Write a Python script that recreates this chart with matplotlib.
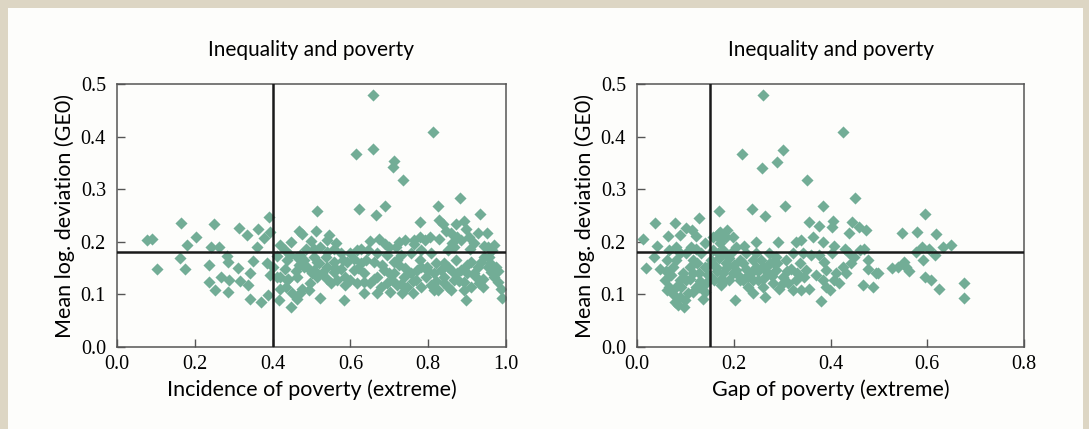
import matplotlib.pyplot as plt
from matplotlib.patches import Rectangle

# Left panel: incidence of extreme poverty vs mean log deviation
inc_x = [0.658, 0.813, 0.659, 0.615, 0.712, 0.710, 0.736, 0.882, 0.825, 0.688,
         0.622, 0.515, 0.933, 0.666, 0.392, 0.165, 0.250, 0.779, 0.829, 0.892,
         0.837, 0.871, 0.313, 0.363, 0.469, 0.512, 0.845, 0.898, 0.950, 0.928,
         0.394, 0.475, 0.545, 0.333, 0.203, 0.377, 0.076, 0.091, 0.539, 0.779,
         0.804, 0.858, 0.740, 0.650, 0.904, 0.447, 0.499, 0.563, 0.690, 0.764,
         0.860, 0.181, 0.242, 0.263, 0.359, 0.420, 0.944, 0.968, 0.908, 0.850,
         0.645, 0.716, 0.486, 0.161, 0.282, 0.285, 0.411, 0.437, 0.385, 0.349,
         0.310, 0.174, 0.103, 0.237, 0.393, 0.341, 0.316, 0.267, 0.287, 0.236,
         0.252, 0.286, 0.336, 0.343, 0.370, 0.387, 0.417, 0.448, 0.463, 0.420,
         0.435, 0.449, 0.475, 0.493, 0.523, 0.583, 0.550, 0.514, 0.431, 0.467,
         0.488, 0.513, 0.536, 0.557, 0.575, 0.587, 0.585, 0.609, 0.609, 0.626,
         0.634, 0.651, 0.669, 0.686, 0.678, 0.703, 0.708, 0.725, 0.738, 0.746,
         0.760, 0.768, 0.781, 0.794, 0.807, 0.819, 0.824, 0.841, 0.858, 0.850,
         0.871, 0.884, 0.893, 0.897, 0.891, 0.910, 0.918, 0.931, 0.940, 0.953,
         0.957, 0.970, 0.979, 0.987, 0.991, 0.944, 0.866, 0.807, 0.781, 0.755,
         0.729, 0.712, 0.695, 0.660, 0.669, 0.600, 0.617, 0.575, 0.540, 0.506,
         0.471, 0.445, 0.432, 0.480, 0.506, 0.527, 0.557, 0.540, 0.591, 0.600,
         0.617, 0.634, 0.695, 0.721, 0.755, 0.772, 0.798, 0.815, 0.833, 0.841,
         0.866, 0.875, 0.901, 0.910, 0.927, 0.935, 0.961, 0.974, 0.965, 0.953,
         0.918, 0.884, 0.875, 0.828, 0.793, 0.764, 0.725, 0.699, 0.673, 0.626,
         0.557, 0.523, 0.506, 0.463, 0.402, 0.411, 0.437, 0.463, 0.471, 0.497,
         0.565, 0.634, 0.669, 0.712, 0.733, 0.781, 0.815,
         0.620, 0.640, 0.660, 0.680, 0.700, 0.720, 0.740, 0.760, 0.780, 0.800,
         0.820, 0.840, 0.860, 0.880, 0.900, 0.920, 0.940, 0.960, 0.980, 0.500,
         0.520, 0.540, 0.560, 0.580, 0.460, 0.480, 0.440, 0.420, 0.850, 0.730]
inc_y = [0.479, 0.409, 0.376, 0.366, 0.353, 0.343, 0.317, 0.284, 0.268, 0.268,
         0.263, 0.258, 0.253, 0.251, 0.247, 0.235, 0.234, 0.237, 0.241, 0.240,
         0.233, 0.233, 0.227, 0.224, 0.221, 0.221, 0.221, 0.224, 0.217, 0.217,
         0.218, 0.214, 0.212, 0.213, 0.209, 0.207, 0.204, 0.206, 0.204, 0.209,
         0.209, 0.216, 0.204, 0.201, 0.209, 0.200, 0.201, 0.197, 0.195, 0.195,
         0.198, 0.194, 0.190, 0.190, 0.190, 0.194, 0.192, 0.194, 0.187, 0.184,
         0.184, 0.190, 0.187, 0.170, 0.173, 0.162, 0.173, 0.165, 0.160, 0.164,
         0.151, 0.148, 0.149, 0.155, 0.136, 0.140, 0.126, 0.133, 0.127, 0.124,
         0.109, 0.105, 0.117, 0.092, 0.086, 0.098, 0.089, 0.076, 0.092, 0.133,
         0.114, 0.102, 0.111, 0.108, 0.094, 0.089, 0.121, 0.133, 0.149, 0.155,
         0.152, 0.162, 0.171, 0.162, 0.149, 0.133, 0.117, 0.146, 0.168, 0.159,
         0.140, 0.121, 0.133, 0.146, 0.114, 0.105, 0.127, 0.155, 0.133, 0.114,
         0.102, 0.127, 0.152, 0.133, 0.117, 0.159, 0.108, 0.133, 0.108, 0.152,
         0.165, 0.146, 0.124, 0.089, 0.108, 0.162, 0.140, 0.121, 0.114, 0.152,
         0.171, 0.133, 0.124, 0.111, 0.094, 0.171, 0.190, 0.178, 0.184, 0.178,
         0.175, 0.162, 0.175, 0.162, 0.178, 0.178, 0.184, 0.178, 0.181, 0.171,
         0.175, 0.175, 0.184, 0.152, 0.146, 0.140, 0.143, 0.152, 0.162, 0.127,
         0.121, 0.124, 0.121, 0.117, 0.140, 0.146, 0.152, 0.140, 0.146, 0.121,
         0.127, 0.140, 0.140, 0.114, 0.152, 0.162, 0.143, 0.152, 0.184, 0.190,
         0.197, 0.203, 0.209, 0.206, 0.203, 0.203, 0.200, 0.190, 0.206, 0.187,
         0.187, 0.190, 0.187, 0.171, 0.152, 0.133, 0.127, 0.133, 0.102, 0.121,
         0.127, 0.102, 0.102, 0.140, 0.102, 0.114, 0.108,
         0.150, 0.165, 0.130, 0.155, 0.140, 0.165, 0.150, 0.125, 0.165, 0.145,
         0.125, 0.160, 0.145, 0.125, 0.155, 0.135, 0.130, 0.160, 0.145, 0.140,
         0.160, 0.130, 0.150, 0.165, 0.145, 0.165, 0.130, 0.110, 0.115, 0.120]

# Right panel: gap of extreme poverty vs mean log deviation
gap_x = [0.261, 0.425, 0.301, 0.217, 0.290, 0.258, 0.351, 0.450, 0.305, 0.384,
         0.238, 0.169, 0.596, 0.264, 0.129, 0.037, 0.078, 0.356, 0.406, 0.444,
         0.376, 0.102, 0.114, 0.186, 0.404, 0.439, 0.459, 0.474, 0.548, 0.579,
         0.619, 0.012, 0.065, 0.089, 0.122, 0.169, 0.198, 0.363, 0.041, 0.080,
         0.112, 0.140, 0.174, 0.222, 0.246, 0.291, 0.329, 0.339, 0.384, 0.408,
         0.429, 0.470, 0.590, 0.604, 0.632, 0.649, 0.036, 0.018, 0.047, 0.061,
         0.067, 0.074, 0.057, 0.061, 0.071, 0.081, 0.078, 0.088, 0.098, 0.105,
         0.102, 0.095, 0.109, 0.116, 0.122, 0.129, 0.136, 0.140, 0.143, 0.133,
         0.146, 0.153, 0.160, 0.164, 0.167, 0.171, 0.174, 0.177, 0.184, 0.191,
         0.195, 0.202, 0.205, 0.212, 0.219, 0.226, 0.229, 0.239, 0.236, 0.246,
         0.250, 0.257, 0.260, 0.264, 0.270, 0.274, 0.281, 0.288, 0.293, 0.301,
         0.308, 0.312, 0.318, 0.322, 0.329, 0.336, 0.339, 0.346, 0.356, 0.360,
         0.370, 0.380, 0.384, 0.387, 0.391, 0.398, 0.404, 0.408, 0.418, 0.425,
         0.432, 0.439, 0.442, 0.449, 0.460, 0.468, 0.477, 0.477, 0.487, 0.494,
         0.499, 0.528, 0.539, 0.552, 0.556, 0.563, 0.576, 0.591, 0.596, 0.607,
         0.617, 0.625, 0.675, 0.675, 0.157, 0.171, 0.184, 0.157, 0.177, 0.205,
         0.226, 0.246, 0.272, 0.288, 0.260, 0.281, 0.226, 0.239, 0.198, 0.212,
         0.171, 0.177, 0.122, 0.102, 0.088, 0.081, 0.116, 0.129, 0.088, 0.067,
         0.322, 0.343, 0.350, 0.377, 0.391, 0.411,
         0.060, 0.075, 0.085, 0.090, 0.100, 0.110, 0.115, 0.125, 0.130, 0.140,
         0.150, 0.155, 0.165, 0.170, 0.180, 0.185, 0.190, 0.200, 0.210, 0.220,
         0.230, 0.240, 0.250, 0.260, 0.270, 0.280, 0.290, 0.300, 0.310, 0.330]
gap_y = [0.479, 0.409, 0.374, 0.366, 0.352, 0.341, 0.317, 0.284, 0.268, 0.268,
         0.263, 0.258, 0.253, 0.250, 0.246, 0.235, 0.235, 0.238, 0.240, 0.238,
         0.230, 0.227, 0.223, 0.223, 0.228, 0.216, 0.228, 0.222, 0.216, 0.218,
         0.215, 0.206, 0.211, 0.212, 0.211, 0.217, 0.209, 0.209, 0.192, 0.190,
         0.190, 0.197, 0.203, 0.192, 0.200, 0.200, 0.200, 0.203, 0.199, 0.192,
         0.187, 0.187, 0.190, 0.187, 0.190, 0.194, 0.171, 0.150, 0.149, 0.165,
         0.184, 0.152, 0.127, 0.108, 0.136, 0.114, 0.086, 0.095, 0.076, 0.102,
         0.127, 0.140, 0.152, 0.165, 0.114, 0.140, 0.092, 0.152, 0.121, 0.178,
         0.136, 0.165, 0.127, 0.152, 0.178, 0.197, 0.117, 0.140, 0.159, 0.127,
         0.178, 0.089, 0.146, 0.165, 0.127, 0.149, 0.114, 0.102, 0.140, 0.152,
         0.127, 0.165, 0.114, 0.095, 0.140, 0.159, 0.121, 0.146, 0.111, 0.133,
         0.165, 0.121, 0.149, 0.108, 0.127, 0.159, 0.108, 0.133, 0.111, 0.175,
         0.136, 0.088, 0.127, 0.162, 0.146, 0.108, 0.178, 0.127, 0.121, 0.152,
         0.140, 0.178, 0.159, 0.171, 0.184, 0.117, 0.165, 0.149, 0.114, 0.141,
         0.141, 0.151, 0.152, 0.162, 0.152, 0.145, 0.181, 0.165, 0.133, 0.127,
         0.175, 0.111, 0.121, 0.094, 0.209, 0.219, 0.209, 0.184, 0.184, 0.190,
         0.178, 0.178, 0.178, 0.171, 0.152, 0.162, 0.133, 0.127, 0.140, 0.127,
         0.127, 0.178, 0.187, 0.178, 0.178, 0.165, 0.140, 0.114, 0.127, 0.114,
         0.178, 0.178, 0.146, 0.175, 0.114, 0.140,
         0.145, 0.100, 0.080, 0.115, 0.090, 0.130, 0.105, 0.160, 0.125, 0.105,
         0.135, 0.160, 0.145, 0.170, 0.125, 0.150, 0.170, 0.155, 0.135, 0.160,
         0.135, 0.165, 0.145, 0.130, 0.155, 0.135, 0.160, 0.120, 0.145, 0.140]

# reference lines
inc_line_x = 0.4
gap_line_x = 0.15
ge0_line_y = 0.18

marker_color = '#72AD96'
sans = ['Lato', 'DejaVu Sans']
serif = ['Liberation Serif', 'DejaVu Serif']

fig = plt.figure(figsize=(10.89, 4.29), dpi=100)
fig.patch.set_facecolor('#DDD6C4')
fig.patches.append(Rectangle((8 / 1089, 0), 1075 / 1089, 421 / 429,
                             transform=fig.transFigure, facecolor='#FDFDFB',
                             edgecolor='none', zorder=-10))

panels = [
    ([117, 389], inc_x, inc_y, inc_line_x, [0.0, 0.2, 0.4, 0.6, 0.8, 1.0], 1.0,
     'Incidence of poverty (extreme)'),
    ([637, 387], gap_x, gap_y, gap_line_x, [0.0, 0.2, 0.4, 0.6, 0.8], 0.8,
     'Gap of poverty (extreme)'),
]
yticks = [0.0, 0.1, 0.2, 0.3, 0.4, 0.5]

for (px, pw), xs, ys, vx, xticks, xmax, xlabel in panels:
    ax = fig.add_axes([px / 1089, 82 / 429, pw / 1089, 263 / 429])
    ax.set_facecolor('none')
    ax.scatter(xs, ys, marker='D', s=38, color=marker_color, linewidths=0, zorder=2)
    ax.axvline(vx, color='#1a1a1a', lw=1.8, zorder=3)
    ax.axhline(ge0_line_y, color='#1a1a1a', lw=1.8, zorder=3)
    ax.set_xlim(0, xmax)
    ax.set_ylim(0, 0.5)
    ax.set_xticks(xticks)
    ax.set_yticks(yticks)
    ax.set_xticklabels([f'{t:.1f}' for t in xticks], family=serif, fontsize=14.5)
    ax.set_yticklabels([f'{t:.1f}' for t in yticks], family=serif, fontsize=14.5)
    ax.tick_params(direction='in', length=6, width=1, color='#555555')
    ax.tick_params(axis='x', pad=6)
    ax.tick_params(axis='y', pad=8)
    for sp in ax.spines.values():
        sp.set_color('#555555')
        sp.set_linewidth(1.1)
    ax.set_xlabel(xlabel, family=sans, fontsize=15.5, labelpad=4)
    ax.set_ylabel('Mean log. deviation (GE0)', family=sans, fontsize=15.5, labelpad=4)
    ax.set_title('Inequality and poverty', family=sans, fontsize=15, pad=20)

fig.savefig('out.png', dpi=100, facecolor=fig.get_facecolor())
